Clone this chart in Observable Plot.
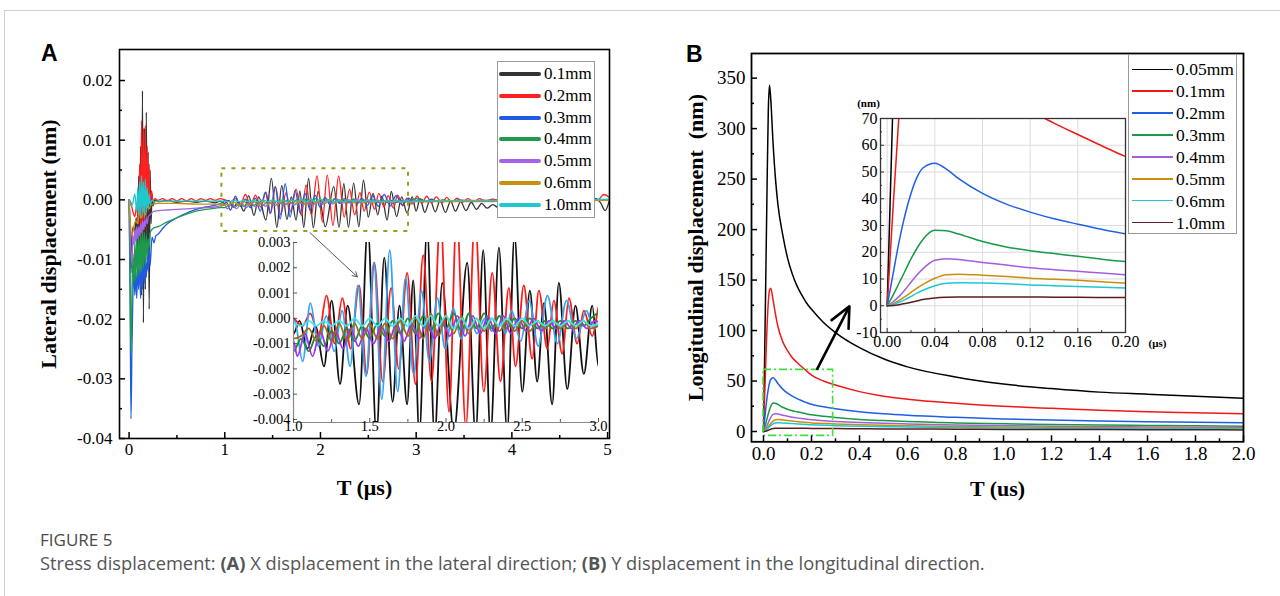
<!DOCTYPE html>
<html><head><meta charset="utf-8">
<script src="https://cdn.jsdelivr.net/npm/d3@7"></script>
<script src="https://cdn.jsdelivr.net/npm/@observablehq/plot@0.6"></script>
<style>
body{margin:0;background:#fff;}
#fig{position:relative;width:1280px;height:596px;overflow:hidden;background:#fff;}
</style></head><body><div id="fig"></div>
<script>
// ---------------- Panel A data (time in μs, lateral displacement in nm) ----------------
const seriesLabelsA = ["0.1mm","0.2mm","0.3mm","0.4mm","0.5mm","0.6mm","1.0mm"];
const colorsA = ["#333333","#ff2020","#1f5be0","#1e9a4e","#a463e8","#c8900c","#1fc8cc"];
const colorsInsetA = ["#111111","#ff1a1a","#35a2f2","#1f8a2a","#9a35ea","#9c6c16","#38ecec"];
const a01 = [[0,0],[0.01,-0.004],[0.02,-0.0122],[0.03,-0.006],[0.045,-0.0045],[0.06,-0.0055],[0.075,-0.003],[0.09,-0.008],[0.1,0.004],[0.11,-0.012],[0.12,0.009],[0.13,-0.016],[0.14,0.0183],[0.15,-0.0206],[0.16,0.012],[0.17,-0.015],[0.18,0.0147],[0.19,-0.010],[0.2,0.008],[0.21,-0.0183],[0.22,0.005],[0.23,-0.004],[0.24,0.001],[0.25,-0.001],[0.27,0],[0.3,-0.0003],[0.4,-0.0001],[0.5,-0.0004],[0.6,-0.0002],[0.7,-0.0004],[0.8,-0.0002],[0.9,-0.0005],[0.95,-0.0002],[1.0,-0.0006],[1.04,-0.0001],[1.09,-0.0012],[1.145,-0.0003],[1.2,-0.0019],[1.25,0.0007],[1.305,-0.0026],[1.355,0.0005],[1.43,-0.0034],[1.487,0.0036],[1.544,-0.0046],[1.595,0.0024],[1.65,-0.0033],[1.695,0.0005],[1.745,-0.0034],[1.785,0.0015],[1.825,-0.0046],[1.876,0.0036],[1.925,-0.0047],[1.975,0.0014],[2.051,-0.0045],[2.139,0.0022],[2.194,-0.0046],[2.244,0.0027],[2.292,-0.0046],[2.347,0.0028],[2.401,-0.0045],[2.449,0.0033],[2.5,-0.0029],[2.55,0.0011],[2.598,-0.0025],[2.642,0.0006],[2.696,-0.0034],[2.74,0.0014],[2.795,-0.0028],[2.849,0.0005],[2.904,-0.0022],[2.959,0.0005],[3.0,-0.0019],[3.04,0.0002],[3.09,-0.0021],[3.145,0],[3.2,-0.002],[3.25,-0.0001],[3.305,-0.0021],[3.36,-0.0002],[3.41,-0.0019],[3.465,-0.0003],[3.52,-0.0018],[3.575,-0.0004],[3.63,-0.0016],[3.685,-0.0006],[3.74,-0.0014],[3.8,-0.0008],[3.86,-0.0013],[3.93,-0.0009],[4.0,-0.0011],[4.1,-0.0006],[4.2,-0.0009],[4.3,-0.0004],[4.4,-0.0006],[4.5,-0.0002],[4.6,-0.0003],[4.7,0],[4.8,-0.0002],[4.88,0.0002],[4.93,-0.0006],[4.975,-0.0018],[5.02,0]];
const a02 = [[0,0],[0.02,-0.0005],[0.04,-0.002],[0.06,-0.0028],[0.08,-0.001],[0.1,-0.004],[0.11,0.006],[0.12,-0.006],[0.13,0.0133],[0.14,-0.008],[0.15,0.012],[0.16,-0.005],[0.17,0.0125],[0.18,-0.003],[0.19,0.009],[0.2,-0.002],[0.21,0.006],[0.22,-0.001],[0.235,0.0015],[0.25,-0.0003],[0.27,0.0002],[0.3,-0.0001],[0.35,0.0002],[0.4,-0.0002],[0.45,0.0002],[0.5,-0.0002],[0.55,0.0002],[0.6,-0.0002],[0.65,0.0002],[0.7,-0.0002],[0.75,0.0002],[0.8,-0.0001],[0.85,0.0002],[0.9,-0.0001],[0.95,0.0002],[1.0,0],[1.06,-0.0003],[1.11,0.0002],[1.165,-0.0007],[1.216,0.0009],[1.27,-0.001],[1.32,0.0008],[1.375,-0.0012],[1.43,0.0013],[1.48,-0.0022],[1.53,0.0022],[1.585,-0.0025],[1.64,0.0012],[1.69,-0.002],[1.745,0.0018],[1.8,-0.0026],[1.85,0.0025],[1.905,-0.0025],[1.964,0.004],[2.02,-0.0037],[2.07,0.0042],[2.13,-0.0043],[2.19,0.004],[2.248,-0.0029],[2.303,0.0018],[2.357,-0.0025],[2.412,0.0012],[2.456,-0.0019],[2.51,0.0013],[2.565,-0.0016],[2.609,0.0011],[2.664,-0.0012],[2.707,0.0007],[2.762,-0.0014],[2.806,0.0008],[2.86,-0.001],[2.904,0.0003],[2.959,-0.0007],[3.01,0.0006],[3.06,-0.0006],[3.11,0.0006],[3.16,-0.0005],[3.21,0.0005],[3.27,-0.0005],[3.32,0.0004],[3.37,-0.0004],[3.43,0.0003],[3.48,-0.0004],[3.54,0.0002],[3.6,-0.0003],[3.66,0.0002],[3.72,-0.0002],[3.8,0.0001],[3.9,-0.0002],[4.0,0.0001],[4.2,-0.0001],[4.4,0.0001],[4.6,-0.0001],[4.8,0.0001],[4.9,0],[4.96,0.0009],[5.02,0.0004]];
const a03 = [[0,0],[0.01,-0.015],[0.02,-0.0367],[0.03,-0.025],[0.04,-0.016],[0.05,-0.011],[0.06,-0.016],[0.07,-0.012],[0.08,-0.0165],[0.09,-0.011],[0.1,-0.015],[0.11,-0.01],[0.12,-0.0165],[0.13,-0.011],[0.14,-0.015],[0.15,-0.009],[0.16,-0.014],[0.17,-0.01],[0.18,-0.013],[0.19,-0.0095],[0.2,-0.012],[0.21,-0.008],[0.22,-0.011],[0.24,-0.0062],[0.26,-0.0072],[0.28,-0.006],[0.3,-0.0058],[0.35,-0.0048],[0.4,-0.004],[0.5,-0.003],[0.6,-0.0022],[0.7,-0.0016],[0.8,-0.0012],[0.9,-0.0009],[0.96,-0.0006],[1.007,-0.0001],[1.06,-0.0017],[1.111,0.0006],[1.163,-0.0011],[1.215,0.0001],[1.267,-0.0013],[1.319,0.0003],[1.371,-0.0019],[1.423,0.0013],[1.475,-0.0023],[1.527,0.0022],[1.579,-0.0032],[1.631,0.0027],[1.683,-0.0029],[1.735,0.0016],[1.787,-0.0022],[1.839,0.0011],[1.891,-0.0017],[1.943,0.0008],[1.995,-0.0012],[2.047,0.0004],[2.099,-0.0008],[2.151,0.0002],[2.203,-0.0006],[2.255,0],[2.3,-0.0005],[2.35,0.0001],[2.39,-0.0006],[2.43,0.0003],[2.49,-0.0009],[2.545,0.0007],[2.605,-0.0011],[2.665,0.0009],[2.73,-0.001],[2.79,0.0007],[2.855,-0.0008],[2.92,0.0003],[2.97,-0.0004],[3.0,-0.0002],[3.05,0.0001],[3.1,-0.0003],[3.16,0.0001],[3.22,-0.0003],[3.28,0],[3.35,-0.0003],[3.45,0],[3.55,-0.0002],[3.7,-0.0001],[3.9,-0.0002],[4.2,-0.0001],[4.5,-0.0001],[4.8,0],[5.02,0]];
const a04 = [[0,0],[0.01,-0.012],[0.02,-0.0253],[0.03,-0.016],[0.04,-0.009],[0.05,-0.014],[0.06,-0.007],[0.07,-0.0135],[0.08,-0.006],[0.09,-0.013],[0.1,-0.006],[0.11,-0.0125],[0.12,-0.0055],[0.13,-0.012],[0.14,-0.005],[0.15,-0.0115],[0.16,-0.0055],[0.17,-0.011],[0.18,-0.006],[0.19,-0.0095],[0.2,-0.0065],[0.21,-0.008],[0.22,-0.0055],[0.25,-0.0048],[0.3,-0.0045],[0.4,-0.0037],[0.5,-0.003],[0.6,-0.0024],[0.7,-0.0019],[0.8,-0.0016],[0.9,-0.0014],[0.95,-0.0013],[1.0,-0.0013],[1.05,-0.0008],[1.1,-0.0013],[1.15,-0.0007],[1.2,-0.0011],[1.25,-0.0005],[1.3,-0.001],[1.35,-0.0004],[1.4,-0.0009],[1.45,-0.0003],[1.5,-0.0008],[1.55,-0.0002],[1.6,-0.0007],[1.65,-0.0001],[1.7,-0.0006],[1.75,0],[1.8,-0.0006],[1.85,0.0001],[1.9,-0.0005],[1.95,0.0002],[2.0,-0.0004],[2.05,0.0002],[2.1,-0.0005],[2.15,0.0002],[2.2,-0.0004],[2.25,0.0002],[2.3,-0.0004],[2.35,0.0001],[2.4,-0.0004],[2.45,0],[2.5,-0.0004],[2.55,0],[2.6,-0.0004],[2.65,-0.0001],[2.7,-0.0004],[2.75,-0.0001],[2.8,-0.0004],[2.85,-0.0001],[2.9,-0.0003],[2.95,0],[3.0,0.0002],[3.1,-0.0002],[3.3,-0.0001],[3.5,-0.0002],[3.8,-0.0001],[4.2,-0.0001],[4.6,0],[5.02,0]];
const a05 = [[0,0],[0.01,-0.005],[0.03,-0.011],[0.04,-0.006],[0.05,-0.0075],[0.06,-0.005],[0.07,-0.007],[0.08,-0.0045],[0.09,-0.0065],[0.1,-0.0045],[0.11,-0.006],[0.12,-0.004],[0.13,-0.0055],[0.14,-0.0035],[0.15,-0.005],[0.16,-0.0035],[0.17,-0.0045],[0.18,-0.003],[0.19,-0.004],[0.2,-0.0028],[0.22,-0.0025],[0.25,-0.002],[0.3,-0.0018],[0.4,-0.0017],[0.5,-0.0016],[0.6,-0.0015],[0.7,-0.0014],[0.8,-0.0013],[0.9,-0.0012],[1.0,-0.0009],[1.025,-0.0015],[1.075,-0.0006],[1.125,-0.0015],[1.175,-0.0005],[1.225,-0.0013],[1.275,-0.0005],[1.325,-0.0012],[1.375,-0.0004],[1.425,-0.0011],[1.475,-0.0004],[1.525,-0.001],[1.575,-0.0003],[1.625,-0.0009],[1.675,-0.0002],[1.725,-0.0009],[1.775,-0.0002],[1.825,-0.0008],[1.875,-0.0001],[1.925,-0.0008],[1.975,-0.0001],[2.025,-0.0007],[2.075,0.0001],[2.125,-0.0007],[2.175,0.0001],[2.225,-0.0006],[2.275,0.0001],[2.325,-0.0006],[2.375,0.0001],[2.425,-0.0006],[2.475,0],[2.525,-0.0005],[2.575,0],[2.625,-0.0005],[2.675,-0.0001],[2.725,-0.0004],[2.775,-0.0001],[2.825,-0.0004],[2.875,-0.0001],[2.925,-0.0004],[2.975,-0.0001],[3.05,-0.0003],[3.3,-0.0002],[3.6,-0.0003],[4.0,-0.0002],[4.5,-0.0001],[5.02,-0.0001]];
const a06 = [[0,0],[0.01,-0.003],[0.03,-0.006],[0.05,-0.0045],[0.07,-0.0035],[0.09,-0.004],[0.11,-0.002],[0.13,-0.003],[0.15,-0.0015],[0.17,-0.0025],[0.19,-0.001],[0.21,-0.0015],[0.23,-0.0008],[0.26,-0.0007],[0.3,-0.0006],[0.5,-0.0006],[0.7,-0.0007],[0.9,-0.0007],[1.0,-0.0008],[1.05,-0.0007],[1.1,-0.0004],[1.15,-0.0009],[1.2,-0.0003],[1.25,-0.0009],[1.3,-0.0002],[1.35,-0.0009],[1.4,-0.0002],[1.45,-0.0008],[1.5,-0.0002],[1.55,-0.0008],[1.6,-0.0002],[1.65,-0.0008],[1.7,-0.0001],[1.75,-0.0007],[1.8,0],[1.85,-0.0008],[1.9,0.0002],[1.95,-0.0007],[2.0,0.0001],[2.05,-0.0006],[2.1,0.0001],[2.15,-0.0006],[2.2,0],[2.25,-0.0005],[2.3,0],[2.35,-0.0005],[2.4,-0.0001],[2.45,-0.0005],[2.5,-0.0001],[2.55,-0.0005],[2.6,-0.0001],[2.65,-0.0004],[2.7,-0.0001],[2.75,-0.0004],[2.8,-0.0001],[2.85,-0.0004],[2.9,-0.0001],[2.95,-0.0004],[3.0,-0.0003],[3.3,-0.0003],[3.7,-0.0002],[4.2,-0.0002],[5.02,-0.0001]];
const a10 = [[0,0],[0.01,-0.0005],[0.02,-0.001],[0.04,-0.0005],[0.06,0.001],[0.08,-0.002],[0.09,0.002],[0.1,-0.0025],[0.11,0.003],[0.12,-0.003],[0.13,0.004],[0.14,-0.002],[0.15,0.003],[0.16,-0.003],[0.17,0.0035],[0.18,-0.002],[0.19,0.002],[0.2,-0.0015],[0.21,0.001],[0.22,-0.0008],[0.24,0],[0.26,-0.0004],[0.3,-0.0002],[0.5,-0.0002],[0.7,-0.0002],[0.9,-0.0002],[1.0,-0.0002],[1.05,-0.0003],[1.1,-0.0001],[1.15,-0.0003],[1.2,-0.0001],[1.25,-0.0003],[1.3,-0.0001],[1.35,-0.0003],[1.4,0],[1.45,-0.0003],[1.5,0],[1.55,-0.0003],[1.6,0],[1.65,-0.0003],[1.7,0],[1.75,-0.0003],[1.8,0.0001],[1.85,-0.0003],[1.9,0.0001],[1.95,-0.0003],[2.0,0.0001],[2.05,-0.0004],[2.1,0],[2.15,-0.0004],[2.2,0],[2.25,-0.0004],[2.3,0],[2.35,-0.0003],[2.4,0],[2.45,-0.0003],[2.5,0],[2.55,-0.0003],[2.6,-0.0001],[2.65,-0.0003],[2.7,-0.0001],[2.75,-0.0003],[2.8,-0.0001],[2.85,-0.0003],[2.9,-0.0001],[2.95,-0.0003],[3.0,-0.0002],[3.5,-0.0001],[4.0,-0.0001],[4.5,0],[5.02,0.0001]];
const seriesA = [a01,a02,a03,a04,a05,a06,a10];
const xTicksA = [0,1,2,3,4,5];
const xMinorA = [0.5,1.5,2.5,3.5,4.5];
const yTicksA = [-0.04,-0.03,-0.02,-0.01,0,0.01,0.02];
const yMinorA = [-0.035,-0.025,-0.015,-0.005,0.005,0.015];
const xTicksInsetA = [1.0,1.5,2.0,2.5,3.0];
const xMinorInsetA = [1.25,1.75,2.25,2.75];
const yTicksInsetA = [-0.004,-0.003,-0.002,-0.001,0,0.001,0.002,0.003];
const zoomBoxA = {x1:0.97, x2:2.92, y1:-0.0053, y2:0.0052};
const arrowA = {x1:1.89, y1:-0.0055, x2:2.385, y2:-0.0129};

// ---------------- Panel B data (time in μs, longitudinal displacement in nm) ----------------
const seriesLabelsB = ["0.05mm","0.1mm","0.2mm","0.3mm","0.4mm","0.5mm","0.6mm","1.0mm"];
const colorsB = ["#000000","#f01818","#1f5fe6","#169a46","#a35ee0","#c8900a","#1ec8d0","#5a1c1c"];
const tB  = [0,0.005,0.01,0.015,0.02,0.025,0.03,0.04,0.05,0.06,0.08,0.10,0.12,0.14,0.16,0.18,0.20,0.25,0.3,0.4,0.5,0.6,0.8,1.0,1.2,1.4,1.6,1.8,2.0];
const b005 = [0,78,160,245,318,343,330,285,250,225,195,172,156,144,135,127,121,108,98,83,72,64,54,47,42.5,39,37,35,33];
const b01  = [0,37,72,105,128,140,142,130,116,104,89,80,73,68.3,64,59.8,55.8,50,46,39.5,35,32,28,25,23,21,19.5,18.5,17.5];
const b02  = [0,12,24,34,42,48,51.5,53.3,51,47.5,42,38,35,32.5,30.5,28.6,26.9,24.5,22.5,19.5,17.5,16,14,12.5,11.3,10.4,9.7,9.1,8.6];
const b03  = [0,4,8.5,13,17.5,21.5,24.8,28.2,28,26.8,24,22,20.6,19.5,18.5,17.4,16.5,15,13.8,12,10.8,9.8,8.5,7.6,6.9,6.4,6,5.6,5.3];
const b04  = [0,1.5,3.5,6,8.8,11.5,13.8,17,17.6,17.3,16.2,15.2,14.2,13.5,12.9,12.2,11.6,10.7,10,8.9,8.1,7.5,6.5,5.8,5.2,4.8,4.5,4.2,4];
const b05  = [0,0.8,2,3.4,5,6.6,8,10.3,11.6,11.8,11.4,10.9,10.3,9.9,9.5,9,8.5,8,7.5,6.8,6.2,5.7,5,4.5,4.1,3.8,3.5,3.3,3.1];
const b06  = [0,0.5,1.3,2.3,3.5,4.7,5.8,7.5,8.4,8.6,8.5,8.2,7.8,7.5,7.2,6.9,6.6,6.2,5.8,5.2,4.8,4.4,3.9,3.5,3.2,3,2.8,2.6,2.5];
const b10  = [0,0.1,0.4,0.8,1.3,1.8,2.3,2.9,3.15,3.25,3.3,3.3,3.25,3.2,3.15,3.1,3.05,2.95,2.85,2.7,2.55,2.45,2.3,2.1,2,1.9,1.8,1.7,1.6];
const seriesB = [b005,b01,b02,b03,b04,b05,b06,b10];
const xTicksB = [0,0.2,0.4,0.6,0.8,1.0,1.2,1.4,1.6,1.8,2.0];
const xMinorB = [0.1,0.3,0.5,0.7,0.9,1.1,1.3,1.5,1.7,1.9];
const yTicksB = [0,50,100,150,200,250,300,350];
const yMinorB = [25,75,125,175,225,275,325];
const xTicksInsetB = [0,0.04,0.08,0.12,0.16,0.20];
const xMinorInsetB = [0.02,0.06,0.10,0.14,0.18];
const yTicksInsetB = [-10,0,10,20,30,40,50,60,70];
const yMinorInsetB = [-5,5,15,25,35,45,55,65];
const zoomBoxB = {x1:0, x2:0.29, y1:-4.3, y2:61};
const arrowB = {x1:0.224, y1:62, x2:0.358, y2:124};

// ---------------- helpers ----------------
const fig = document.getElementById("fig");
const SERIF = "'Liberation Serif', 'Times New Roman', serif";
function put(node, left, top){ node.style.position="absolute"; node.style.left=left+"px"; node.style.top=top+"px"; fig.appendChild(node); return node; }
function frameSize(F, m){ return {iw:F.x1-F.x0, ih:F.y1-F.y0, w:F.x1-F.x0+m.left+m.right, h:F.y1-F.y0+m.top+m.bottom}; }
const baseStyle = (fs)=>({background:"transparent", fontFamily:SERIF, fontSize:fs+"px", color:"#000", overflow:"visible"});
const X = p=>p[0], Y = p=>p[1];
const titleOpts = {textAnchor:"middle", lineAnchor:"middle", fontSize:22, fontWeight:"bold"};

// ---------------- Panel A main ----------------
{
  const F = {x0:119, y0:49, x1:609, y1:438}, m = {left:80, top:10, right:12, bottom:64};
  const s = frameSize(F, m);
  const p = Plot.plot({
    width:s.w, height:s.h, marginLeft:m.left, marginTop:m.top, marginRight:m.right, marginBottom:m.bottom,
    x:{domain:[-0.1,5.02], label:null}, y:{domain:[-0.04,0.0252], label:null},
    style: baseStyle(17),
    marks:[
      ...seriesA.map((d,i)=>Plot.line(d,{x:X, y:Y, stroke:colorsA[i], strokeWidth:1.3, curve:"monotone-x", clip:true})),
      Plot.rect([zoomBoxA],{x1:"x1",x2:"x2",y1:"y1",y2:"y2", fill:"none", stroke:"#9d9b1f", strokeWidth:2, strokeDasharray:"4,6"}),
      Plot.arrow([arrowA],{x1:"x1",y1:"y1",x2:"x2",y2:"y2", stroke:"#555", strokeWidth:1, headLength:8}),
      Plot.frame({stroke:"#000", strokeWidth:1.6}),
      Plot.ruleX(xTicksA,{insetTop:s.ih-6, strokeWidth:1.5}),
      Plot.ruleX(xMinorA,{insetTop:s.ih-3, strokeWidth:1.5}),
      Plot.ruleY(yTicksA,{insetRight:s.iw-6, strokeWidth:1.5}),
      Plot.ruleY(yMinorA,{insetRight:s.iw-3, strokeWidth:1.5}),
      Plot.axisX(xTicksA,{tickSize:0, tickPadding:4, tickFormat:d=>String(d), label:null, fontSize:17}),
      Plot.axisY(yTicksA,{tickSize:0, tickPadding:7, tickFormat:d=>d.toFixed(2), label:null, fontSize:17}),
      Plot.text(["Lateral displacement (nm)"],{...titleOpts, text:d=>d, frameAnchor:"left", dx:-71, rotate:-90}),
      Plot.text(["T (μs)"],{...titleOpts, text:d=>d, frameAnchor:"bottom", dy:49})
    ]
  });
  put(p, F.x0-m.left, F.y0-m.top);
}

// ---------------- Panel B main ----------------
{
  const F = {x0:750.7, y0:52.7, x1:1242.7, y1:441}, m = {left:72, top:10, right:12, bottom:64};
  const s = frameSize(F, m);
  const p = Plot.plot({
    width:s.w, height:s.h, marginLeft:m.left, marginTop:m.top, marginRight:m.right, marginBottom:m.bottom,
    x:{domain:[-0.05,2.0], label:null}, y:{domain:[-10.2,374.4], label:null},
    style: baseStyle(19),
    marks:[
      ...seriesB.map((v,i)=>Plot.line(tB.map((t,j)=>[t,v[j]]),{x:X, y:Y, stroke:colorsB[i], strokeWidth:1.5, curve:"monotone-x", clip:true})),
      Plot.rect([zoomBoxB],{x1:"x1",x2:"x2",y1:"y1",y2:"y2", fill:"none", stroke:"#3ee03a", strokeWidth:1.6, strokeDasharray:"8,3,2,3"}),
      Plot.arrow([arrowB],{x1:"x1",y1:"y1",x2:"x2",y2:"y2", stroke:"#000", strokeWidth:2.6, headLength:13, headAngle:50}),
      Plot.frame({stroke:"#000", strokeWidth:1.8}),
      Plot.ruleX(xTicksB,{insetTop:s.ih-6, strokeWidth:1.5}),
      Plot.ruleX(xMinorB,{insetTop:s.ih-3, strokeWidth:1.5}),
      Plot.ruleY(yTicksB,{insetRight:s.iw-6, strokeWidth:1.5}),
      Plot.ruleY(yMinorB,{insetRight:s.iw-3, strokeWidth:1.5}),
      Plot.axisX(xTicksB,{tickSize:0, tickPadding:5, tickFormat:d=>d.toFixed(1), label:null, fontSize:19}),
      Plot.axisY(yTicksB,{tickSize:0, tickPadding:6, tickFormat:d=>String(d), label:null, fontSize:19}),
      Plot.text(["Longitudinal displacement  (nm)"],{...titleOpts, text:d=>d, frameAnchor:"left", dx:-56, rotate:-90}),
      Plot.text(["T (us)"],{...titleOpts, text:d=>d, frameAnchor:"bottom", dy:47})
    ]
  });
  put(p, F.x0-m.left, F.y0-m.top);
}

// ---------------- Panel A inset ----------------
{
  const F = {x0:293, y0:242, x1:598, y1:422}, m = {left:60, top:6, right:16, bottom:24};
  const s = frameSize(F, m);
  const p = Plot.plot({
    width:s.w, height:s.h, marginLeft:m.left, marginTop:m.top, marginRight:m.right, marginBottom:m.bottom,
    x:{domain:[1.0,3.0], label:null}, y:{domain:[-0.00412,0.003], label:null},
    style: baseStyle(14.5),
    marks:[
      ...seriesA.map((d,i)=>Plot.line(d.filter(q=>q[0]>=0.9 && q[0]<=3.1),{x:X, y:Y, stroke:colorsInsetA[i], strokeWidth:1.8, curve:"monotone-x", clip:true})),
      Plot.ruleX([1.0],{stroke:"#8a8a8a", strokeWidth:1.2}),
      Plot.ruleY([-0.00412],{stroke:"#8a8a8a", strokeWidth:1.2}),
      Plot.ruleX(xTicksInsetA,{insetTop:s.ih-4, stroke:"#555"}),
      Plot.ruleX(xMinorInsetA,{insetTop:s.ih-3, stroke:"#555"}),
      Plot.ruleY(yTicksInsetA,{insetRight:s.iw-4, stroke:"#555"}),
      Plot.axisX(xTicksInsetA,{tickSize:0, tickPadding:-2, tickFormat:d=>d.toFixed(1), label:null, fontSize:14.5}),
      Plot.axisY(yTicksInsetA,{tickSize:0, tickPadding:3, tickFormat:d=>d.toFixed(3), label:null, fontSize:14.5})
    ]
  });
  put(p, F.x0-m.left, F.y0-m.top);
}

// ---------------- Panel B inset ----------------
{
  const F = {x0:880, y0:118.3, x1:1125, y1:332.3}, m = {left:52, top:24, right:50, bottom:24};
  const s = frameSize(F, m);
  const p = Plot.plot({
    width:s.w, height:s.h, marginLeft:m.left, marginTop:m.top, marginRight:m.right, marginBottom:m.bottom,
    x:{domain:[-0.0056,0.2], label:null}, y:{domain:[-10,70], label:null},
    style: baseStyle(16),
    marks:[
      Plot.frame({fill:"#fff", stroke:"none"}),
      Plot.ruleX(xTicksInsetB,{stroke:"#dcdcdc"}),
      Plot.ruleY(yTicksInsetB,{stroke:"#dcdcdc"}),
      ...seriesB.map((v,i)=>Plot.line(tB.map((t,j)=>[t,v[j]]).filter(q=>q[0]<=0.25),{x:X, y:Y, stroke:colorsB[i], strokeWidth:1.5, curve:"monotone-x", clip:true})),
      Plot.frame({stroke:"#333", strokeWidth:1.3}),
      Plot.ruleX(xTicksInsetB,{insetTop:s.ih-4, stroke:"#333"}),
      Plot.ruleX(xMinorInsetB,{insetTop:s.ih-2, stroke:"#333"}),
      Plot.ruleY(yTicksInsetB,{insetRight:s.iw-4, stroke:"#333"}),
      Plot.ruleY(yMinorInsetB,{insetRight:s.iw-2, stroke:"#333"}),
      Plot.axisX(xTicksInsetB,{tickSize:0, tickPadding:3, tickFormat:d=>d.toFixed(2), label:null, fontSize:16}),
      Plot.axisY(yTicksInsetB,{tickSize:0, tickPadding:3, tickFormat:d=>String(d), label:null, fontSize:16}),
      Plot.text(["(nm)"],{text:d=>d, frameAnchor:"top-left", textAnchor:"middle", lineAnchor:"middle", dx:-12, dy:-15, fontSize:11, fontWeight:"bold"}),
      Plot.text(["(μs)"],{text:d=>d, frameAnchor:"bottom-right", textAnchor:"middle", lineAnchor:"middle", dx:32, dy:11, fontSize:11, fontWeight:"bold"})
    ]
  });
  put(p, F.x0-m.left, F.y0-m.top);
}

// ---------------- legends ----------------
function makeLegend(box, labels, colors, lw){
  const d = document.createElement("div");
  Object.assign(d.style,{position:"absolute", left:box.left+"px", top:box.top+"px", width:box.w+"px", height:box.h+"px", border:"1px solid #9a9a9a", background:"#fff", boxSizing:"border-box"});
  labels.forEach((lab,i)=>{
    const cy = box.row0 + i*box.step;
    const ln = document.createElement("div");
    Object.assign(ln.style,{position:"absolute", left:box.lx0+"px", width:(box.lx1-box.lx0)+"px", top:(cy-lw/2)+"px", height:lw+"px", background:colors[i], borderRadius:(lw>2? lw/2:0)+"px"});
    const tx = document.createElement("div");
    Object.assign(tx.style,{position:"absolute", left:box.tx+"px", top:(cy-10)+"px", height:"20px", lineHeight:"20px", fontFamily:SERIF, fontSize:box.fs+"px", color:"#000", whiteSpace:"nowrap"});
    tx.textContent = lab;
    d.appendChild(ln); d.appendChild(tx);
  });
  fig.appendChild(d);
}
makeLegend({left:497, top:61, w:98, h:157, row0:12, step:21.8, lx0:1, lx1:43, tx:46, fs:17}, seriesLabelsA, colorsA, 4);
makeLegend({left:1128, top:54, w:109, h:180, row0:14.3, step:21.9, lx0:2.7, lx1:43.7, tx:47, fs:17.5}, seriesLabelsB, colorsB, 1.6);

// ---------------- panel letters, border, caption ----------------
function label(txt, left, top, css){ const d=document.createElement("div"); d.innerHTML=txt; Object.assign(d.style,{position:"absolute", left:left+"px", top:top+"px", whiteSpace:"nowrap"}, css); fig.appendChild(d); return d; }
label("A", 41, 42, {fontFamily:"'Liberation Sans', Arial, sans-serif", fontWeight:"bold", fontSize:"23px", lineHeight:"23px", color:"#000"});
label("B", 686, 43, {fontFamily:"'Liberation Sans', Arial, sans-serif", fontWeight:"bold", fontSize:"23px", lineHeight:"23px", color:"#000"});
label("", 4, 10, {width:"1300px", height:"700px", border:"1px solid #d0d0d0", pointerEvents:"none"});
label("FIGURE 5", 40, 529, {fontFamily:"'Open Sans', sans-serif", fontSize:"17px", lineHeight:"22px", color:"#4a4a4a"});
label("Stress displacement: <b>(A)</b> X displacement in the lateral direction; <b>(B)</b> Y displacement in the longitudinal direction.", 40, 552, {fontFamily:"'Open Sans', sans-serif", fontSize:"18.3px", lineHeight:"22px", color:"#555"});
</script></body></html>
